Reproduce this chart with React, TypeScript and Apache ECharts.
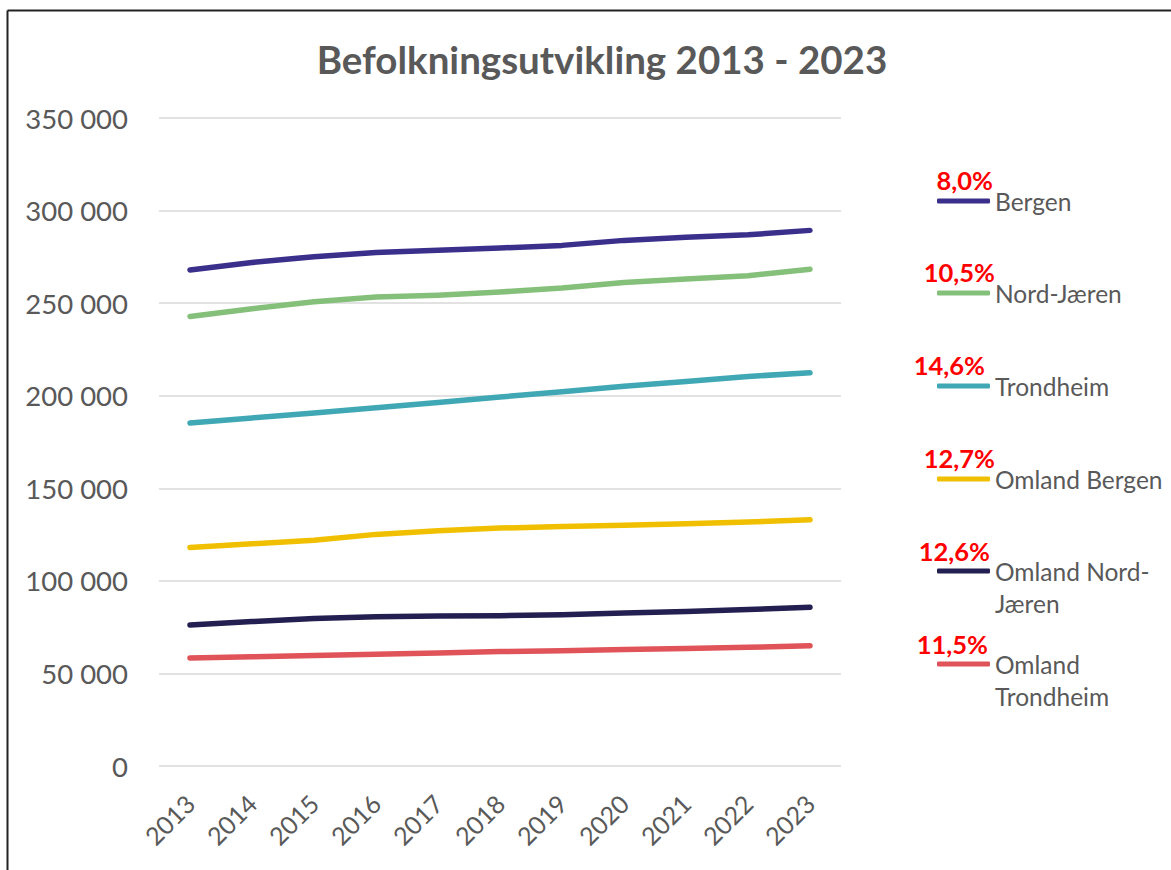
import React, { useEffect, useRef } from "react";
import * as echarts from "echarts";

const years = ["2013", "2014", "2015", "2016", "2017", "2018", "2019", "2020", "2021", "2022", "2023"];
const seriesNames = ["Bergen", "Nord-Jæren", "Trondheim", "Omland Bergen", "Omland Nord-Jæren", "Omland Trondheim"];
const bergen = [267950, 271950, 275100, 277400, 278550, 279800, 281200, 283900, 285600, 286900, 289300];
const nordJaeren = [242800, 247000, 250800, 253300, 254300, 256000, 258200, 261200, 263100, 264800, 268300];
const trondheim = [185300, 188000, 190700, 193500, 196300, 199300, 202100, 205100, 207700, 210400, 212400];
const omlandBergen = [118000, 120000, 121900, 125100, 127100, 128500, 129300, 130000, 130800, 131800, 133000];
const omlandNordJaeren = [76200, 78000, 79700, 80600, 81000, 81200, 81700, 82600, 83500, 84500, 85800];
const omlandTrondheim = [58300, 59000, 59700, 60400, 61000, 61800, 62300, 62900, 63500, 64100, 65000];
const growthLabels = ["8,0%", "10,5%", "14,6%", "12,7%", "12,6%", "11,5%"];
const legendLabels = ["Bergen", "Nord-Jæren", "Trondheim", "Omland Bergen", "Omland Nord-\nJæren", "Omland\nTrondheim"];
const colors = ["#3B2F8C", "#84C07A", "#3FA8B4", "#F0C000", "#231F50", "#E05358"];

const FONT = "Lato, 'Noto Sans', sans-serif";
const LEGEND_Y = [200, 292, 385, 478, 571, 664];
const GROWTH_RIGHT = [993, 995, 985, 995, 990, 988];

export default function App() {
  const ref = useRef<HTMLDivElement>(null);
  useEffect(() => {
    if (!ref.current) return;
    const chart = echarts.init(ref.current, undefined, { renderer: "svg" });
    const values = [bergen, nordJaeren, trondheim, omlandBergen, omlandNordJaeren, omlandTrondheim];
    const fmt = (v: number) => String(v).replace(/\B(?=(\d{3})+(?!\d))/g, " ");
    const legends = seriesNames.map((name, i) => {
      const multi = legendLabels[i].includes("\n");
      return {
        data: [name],
        left: 937,
        top: multi ? LEGEND_Y[i] - 48 : LEGEND_Y[i] - 15,
        padding: 0,
        orient: "vertical",
        icon: "roundRect",
        itemWidth: 53,
        itemHeight: 5,
        selectedMode: false,
        formatter: () => (multi ? "\n" + legendLabels[i] : legendLabels[i]),
        textStyle: {
          color: "#595959",
          fontSize: 24.5,
          fontFamily: FONT,
          lineHeight: 32,
        },
      };
    });
    chart.setOption({
      animation: false,
      backgroundColor: "#ffffff",
      title: {
        text: "Befolkningsutvikling 2013 - 2023",
        left: 597,
        textAlign: "center",
        top: 34,
        textStyle: { color: "#595959", fontSize: 38.5, fontWeight: "bold", fontFamily: FONT },
      },
      legend: legends,
      grid: { left: 159, right: 330, top: 118, bottom: 104, containLabel: false },
      xAxis: {
        type: "category",
        data: years,
        boundaryGap: true,
        axisLine: { show: false },
        axisTick: { show: false },
        axisLabel: { rotate: 45, color: "#595959", fontSize: 25, fontFamily: FONT, margin: 33, interval: 0 },
      },
      yAxis: {
        type: "value",
        min: 0,
        max: 350000,
        interval: 50000,
        axisLine: { show: false },
        axisTick: { show: false },
        splitLine: { lineStyle: { color: "#D9D9D9", width: 1.5 } },
        axisLabel: { color: "#595959", fontSize: 27.5, fontFamily: FONT, margin: 31, formatter: fmt },
      },
      series: seriesNames.map((name, i) => ({
        name,
        type: "line",
        data: values[i],
        color: colors[i],
        showSymbol: false,
        symbol: "none",
        lineStyle: { width: 5.5, color: colors[i], cap: "round", join: "round" },
      })),
      graphic: [
        { type: "line", shape: { x1: 7.5, y1: 10.5, x2: 1171, y2: 10.5 }, style: { stroke: "#222", lineWidth: 2 } },
        { type: "line", shape: { x1: 7.5, y1: 10.5, x2: 7.5, y2: 870 }, style: { stroke: "#222", lineWidth: 2 } },
        ...growthLabels.map((t, i) => ({
          type: "text",
          x: GROWTH_RIGHT[i],
          y: LEGEND_Y[i] - 20,
          style: {
            text: t,
            fill: "#FF0000",
            font: `bold 25.5px ${FONT}`,
            textAlign: "right",
            textVerticalAlign: "middle",
          },
        })),
      ],
    });
    return () => chart.dispose();
  }, []);
  return <div ref={ref} style={{ position: "fixed", left: 0, top: 0, width: 1171, height: 870 }} />;
}
